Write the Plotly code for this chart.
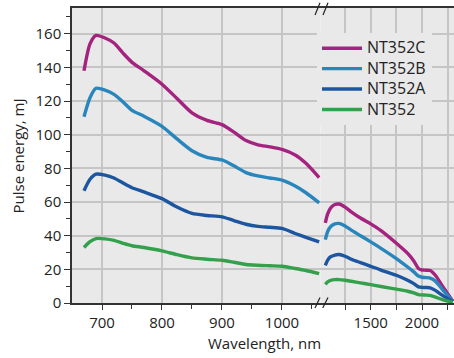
import plotly.graph_objects as go

# ---------------- data ----------------
series_names = ["NT352C", "NT352B", "NT352A", "NT352"]
series_colors = ["#a3237f", "#2886bd", "#1d56a0", "#35a04b"]

wl_left = [670, 680, 690, 705, 720, 735, 750, 770, 800, 825, 850, 875, 900,
           920, 940, 960, 980, 1000, 1022, 1040, 1062]
nt352c_left = [138, 154, 159, 157.5, 154.5, 148.5, 143, 138, 130, 121.5, 113, 108.5, 106,
               101.5, 96.5, 94, 92.8, 91.3, 88, 83, 74.5]
nt352b_left = [110.7, 122, 127.6, 126.5, 124, 119.5, 114.5, 111, 105, 97.5, 90.5, 86.5, 85,
               81.5, 77.5, 75.5, 74.3, 73, 69.5, 65.5, 59.5]
nt352a_left = [66.7, 73.5, 76.6, 76, 74.3, 71.3, 68.5, 66, 62, 57, 53.2, 52, 51.2,
               49, 46.8, 45.5, 45, 44.3, 41.3, 39, 36.3]
nt352_left = [33, 36.5, 38.3, 38.1, 37.2, 35.5, 34, 33, 31, 28.7, 26.8, 26, 25.4,
              24.2, 22.9, 22.4, 22.1, 21.8, 20.5, 19.3, 17.5]

wl_right = [1057, 1080, 1110, 1150, 1190, 1250, 1310, 1400, 1500, 1600, 1750, 1860,
            1920, 1965, 2000, 2040, 2080, 2130, 2200, 2300]
nt352c_right = [47.6, 53, 56.5, 58.5, 58.8, 57, 54.2, 50.5, 47, 43, 35.5, 29.5,
                25, 20.5, 19.6, 19.5, 19.3, 16.5, 10, 1]
nt352b_right = [37.7, 42.5, 45.5, 47, 47.3, 45.8, 43.3, 40, 36.3, 32.5, 26.4, 21.4,
                18.5, 16, 15.3, 15.1, 14.8, 13, 8, 1]
nt352a_right = [22.4, 25.5, 27.5, 28.5, 28.8, 27.8, 26, 24, 21.8, 19.6, 16.5, 13.5,
                11.5, 9.6, 9.3, 9.2, 9, 7.5, 4.5, 0.8]
nt352_right = [11.1, 12.6, 13.5, 13.9, 13.9, 13.5, 12.9, 12, 10.9, 9.8, 8.2, 7,
               6, 5, 4.8, 4.7, 4.5, 3.5, 2, 0.4]

left_values = [nt352c_left, nt352b_left, nt352a_left, nt352_left]
right_values = [nt352c_right, nt352b_right, nt352a_right, nt352_right]

x_left_ticks = [700, 800, 900, 1000]
x_left_minor = [750, 850, 950, 1050]
x_right_ticks = [1250, 1500, 1750, 2000, 2250]
x_right_labels = ["", "1500", "", "2000", ""]
y_ticks = [0, 20, 40, 60, 80, 100, 120, 140, 160]

# ---------------- figure ----------------
W, H = 454, 358
ML, MR, MT, MB = 72, 0, 8, 55
PW, PH = W - ML - MR, H - MT - MB
FONT = "Open Sans, Noto Sans, sans-serif"
BG = "#e9e9e9"
GRID = "#c5c5c5"
AX = "#333333"


def px_x(px):
    return (px - ML) / PW


def px_y(py):
    return (H - MB - py) / PH


fig = go.Figure()
for name, color, lv, rv in zip(series_names, series_colors, left_values, right_values):
    label = '<span style="font-size:16px">' + name + '</span>'
    fig.add_trace(go.Scatter(x=wl_left, y=lv, name=label, legendgroup=name,
                             mode="lines", line=dict(color=color, width=3.4, shape="spline", smoothing=0.7),
                             xaxis="x", yaxis="y"))
    fig.add_trace(go.Scatter(x=wl_right, y=rv, name=label, legendgroup=name, showlegend=False,
                             mode="lines", line=dict(color=color, width=3.4, shape="spline", smoothing=0.7),
                             xaxis="x2", yaxis="y"))

split = 0.6505
axis_common = dict(ticks="outside", ticklen=5, tickwidth=1, tickcolor=AX,
                   showline=True, linecolor=AX, linewidth=1.5, mirror=True,
                   showgrid=True, gridcolor=GRID, gridwidth=1.5, zeroline=False,
                   tickfont=dict(family=FONT, size=15, color="#222"))

fig.update_layout(
    width=W, height=H,
    margin=dict(l=ML, r=MR, t=MT, b=MB, pad=0),
    paper_bgcolor="white", plot_bgcolor=BG,
    font=dict(family=FONT, color="#222"),
    xaxis=dict(domain=[0, split], range=[650, 1064.2], tickvals=x_left_ticks,
               minor=dict(tickvals=x_left_minor, ticks="outside", ticklen=4, tickcolor=AX, showgrid=False),
               anchor="y", **axis_common),
    xaxis2=dict(domain=[split, 1], range=[1010, 2312], tickvals=x_right_ticks, ticktext=x_right_labels,
                anchor="y", **axis_common),
    yaxis=dict(range=[0, 175.3], tickvals=y_ticks, ticks="outside", ticklen=6, tickcolor=AX,
               showline=True, linecolor=AX, linewidth=1.5, showgrid=True, gridcolor=GRID, gridwidth=1.5,
               zeroline=False, minor=dict(dtick=10, ticks="outside", ticklen=4, tickcolor=AX, showgrid=False),
               tickfont=dict(family=FONT, size=15, color="#222"), anchor="x"),
    legend=dict(x=px_x(317), y=px_y(33), xanchor="left", yanchor="top", bgcolor=BG,
                borderwidth=0, font=dict(family=FONT, size=13.4, color="#222"),
                tracegroupgap=0, itemwidth=40),
    showlegend=True,
)

fig.add_annotation(text="Wavelength, nm", xref="paper", yref="paper", x=px_x(264), y=px_y(343),
                   xanchor="center", yanchor="middle", showarrow=False,
                   font=dict(family=FONT, size=15, color="#222"))
fig.add_annotation(text="Pulse energy, mJ", xref="paper", yref="paper", x=px_x(17), y=0.5,
                   xanchor="center", yanchor="middle", textangle=-90, showarrow=False,
                   font=dict(family=FONT, size=15, color="#222"))

# axis-break marks
for (x0, y0, x1, y1) in [(315, 15, 320, 2.7), (323, 15, 328, 2.7),
                         (315, 308, 320, 297.5), (322.7, 308, 328, 297.5)]:
    fig.add_shape(type="line", xref="paper", yref="paper",
                  x0=px_x(x0), y0=px_y(y0), x1=px_x(x1), y1=px_y(y1),
                  line=dict(color="#222", width=1.2))

fig.write_html("out.html", config={"displayModeBar": False},
               post_script="document.body.style.margin='0';")
